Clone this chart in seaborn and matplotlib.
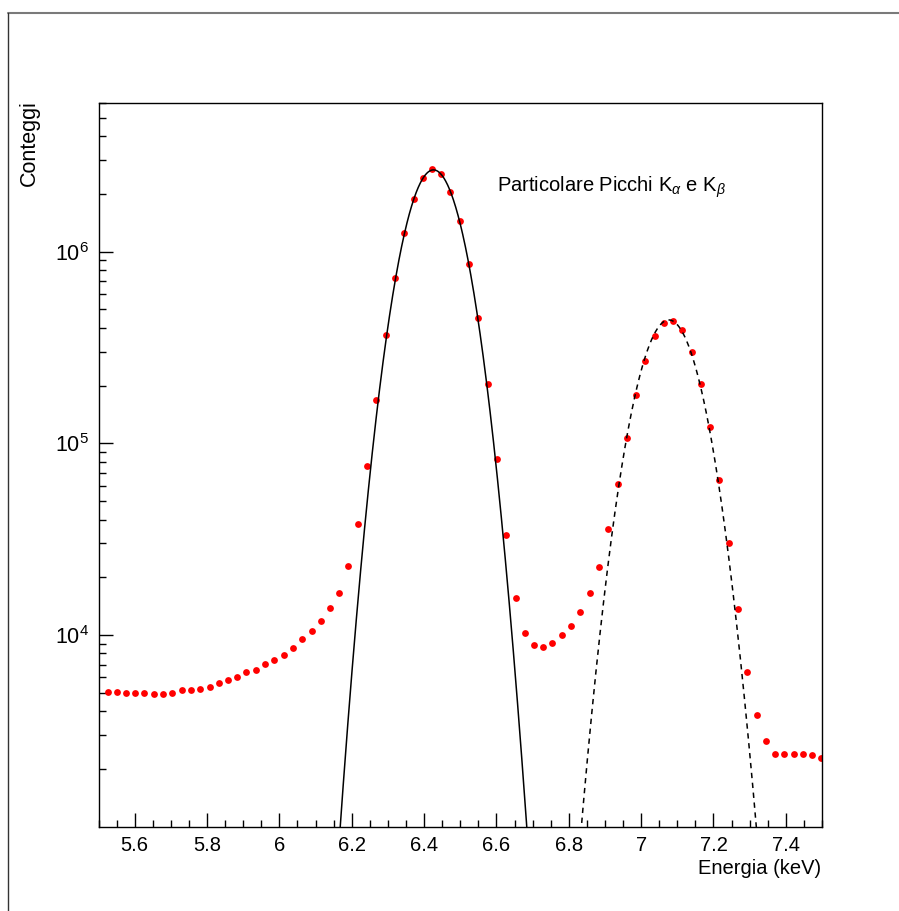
import numpy as np
import pandas as pd
import matplotlib
matplotlib.use("Agg")
import matplotlib.pyplot as plt
import seaborn as sns
from matplotlib.ticker import (MultipleLocator, FixedLocator, LogLocator,
                               NullFormatter, FixedFormatter)
from matplotlib.lines import Line2D

# ---------------- data ----------------
energy = [5.525, 5.551, 5.576, 5.602, 5.627, 5.653, 5.679, 5.704, 5.730, 5.756,
          5.781, 5.807, 5.832, 5.858, 5.884, 5.909, 5.935, 5.961, 5.986, 6.012,
          6.037, 6.063, 6.089, 6.114, 6.140, 6.166, 6.191, 6.217, 6.243, 6.268,
          6.294, 6.320, 6.345, 6.371, 6.396, 6.422, 6.448, 6.473, 6.499, 6.525,
          6.550, 6.576, 6.601, 6.627, 6.653, 6.678, 6.704, 6.730, 6.755, 6.781,
          6.806, 6.832, 6.858, 6.883, 6.909, 6.935, 6.960, 6.986, 7.012, 7.037,
          7.063, 7.088, 7.114, 7.140, 7.165, 7.191, 7.216, 7.242, 7.268, 7.293,
          7.319, 7.345, 7.370, 7.396, 7.422, 7.447, 7.473, 7.498]
counts = [5020, 5050, 4990, 4950, 4950, 4920, 4920, 4960, 5140, 5140,
          5230, 5360, 5590, 5820, 6030, 6400, 6560, 7030, 7430, 7890,
          8490, 9500, 10530, 11830, 13800, 16530, 22800, 37850, 76200, 169000,
          369000, 728000, 1255000, 1880000, 2430000, 2690000, 2540000, 2050000, 1440000, 863000,
          449000, 203000, 83200, 33300, 15500, 10240, 8830, 8690, 9120, 9950,
          11090, 13130, 16490, 22480, 35800, 61100, 107000, 178000, 269000, 361000,
          423000, 436000, 390000, 301000, 203000, 122000, 64300, 30300, 13600, 6430,
          3820, 2790, 2390, 2390, 2390, 2400, 2360, 2280]

# Gaussian fit parameters (K-alpha solid, K-beta dashed)
fit_names = ["K_alpha", "K_beta"]
fit_amplitude = [2.67e6, 4.40e5]
fit_mean = [6.426, 7.0766]
fit_sigma = [0.0649, 0.0693]

x_ticks = [5.6, 5.8, 6.0, 6.2, 6.4, 6.6, 6.8, 7.0, 7.2, 7.4]
x_tick_labels = ["5.6", "5.8", "6", "6.2", "6.4", "6.6", "6.8", "7", "7.2", "7.4"]
y_ticks = [1e4, 1e5, 1e6]
y_tick_labels = [r"$10^{4}$", r"$10^{5}$", r"$10^{6}$"]

x_label = "Energia (keV)"
y_label = "Conteggi"
note_text = r"Particolare Picchi K$_{\alpha}$ e K$_{\beta}$"

# ---------------- style ----------------
sns.set_style("ticks")
plt.rcParams['font.family'] = ['Liberation Sans', 'DejaVu Sans']
plt.rcParams['mathtext.fontset'] = 'custom'
plt.rcParams['mathtext.rm'] = 'Liberation Sans'
plt.rcParams['mathtext.it'] = 'Liberation Sans:italic'
plt.rcParams['mathtext.bf'] = 'Liberation Sans:bold'
plt.rcParams['text.color'] = 'black'
plt.rcParams['xtick.color'] = 'black'
plt.rcParams['ytick.color'] = 'black'
plt.rcParams['xtick.labelcolor'] = 'black'
plt.rcParams['ytick.labelcolor'] = 'black'

W, H = 899, 911
fig = plt.figure(figsize=(W / 100, H / 100), dpi=100)
fig.patch.set_facecolor('white')

ax_l, ax_r, ax_t, ax_b = 98.5, 822.0, 102.5, 826.5
ax = fig.add_axes([ax_l / W, 1 - ax_b / H, (ax_r - ax_l) / W, (ax_b - ax_t) / H])
ax.set_facecolor('white')

df = pd.DataFrame({'energy': energy, 'counts': counts})
sns.scatterplot(data=df, x='energy', y='counts', ax=ax, color='#ff0000',
                s=24, linewidth=0, zorder=2, legend=False)

styles = ['-', '--']
for name, amp, mu, sig, ls in zip(fit_names, fit_amplitude, fit_mean, fit_sigma, styles):
    xs = np.linspace(mu - 0.32, mu + 0.32, 600)
    ys = amp * np.exp(-0.5 * ((xs - mu) / sig) ** 2)
    sns.lineplot(x=xs, y=ys, ax=ax, color='black', lw=1.1, linestyle=ls,
                 zorder=3, legend=False)
    if ls == '--':
        ax.lines[-1].set_dashes([3.5, 3.0])

ax.set_yscale('log')
ax.set_xlim(5.5, 7.5)
ax.set_ylim(1000, 6.0e6)

ax.xaxis.set_major_locator(FixedLocator(x_ticks))
ax.xaxis.set_major_formatter(FixedFormatter(x_tick_labels))
ax.xaxis.set_minor_locator(MultipleLocator(0.05))
ax.yaxis.set_major_locator(FixedLocator(y_ticks))
ax.yaxis.set_major_formatter(FixedFormatter(y_tick_labels))
ax.yaxis.set_minor_locator(LogLocator(base=10, subs=np.arange(2, 10), numticks=30))
ax.yaxis.set_minor_formatter(NullFormatter())

ax.tick_params(which='both', direction='in', top=False, right=False,
               color='black', width=1.0)
ax.tick_params(which='major', length=10)
ax.tick_params(which='minor', length=5)
ax.tick_params(axis='x', which='major', labelsize=14.5, pad=7)
ax.tick_params(axis='y', which='major', labelsize=15.5, pad=7)
for sp in ax.spines.values():
    sp.set_color('black')
    sp.set_linewidth(1.0)
ax.set_xlabel('')
ax.set_ylabel('')

fig.text(821 / W, 1 - 868 / H, x_label, ha='right', va='center', fontsize=14.5)
fig.text(29 / W, 1 - 100 / H, y_label, ha='center', va='top', rotation=90, fontsize=15.5)
fig.text(497 / W, 1 - 187 / H, note_text, ha='left', va='center', fontsize=14.5)

# outer canvas border
fig.add_artist(Line2D([8 / W, 1.0], [1 - 12.5 / H, 1 - 12.5 / H], transform=fig.transFigure,
                      color='#7a7a7a', lw=1.5))
fig.add_artist(Line2D([8 / W, 8 / W], [0, 1 - 12.5 / H], transform=fig.transFigure,
                      color='#333333', lw=1.0))

fig.savefig('out.png', dpi=100, facecolor='white')
